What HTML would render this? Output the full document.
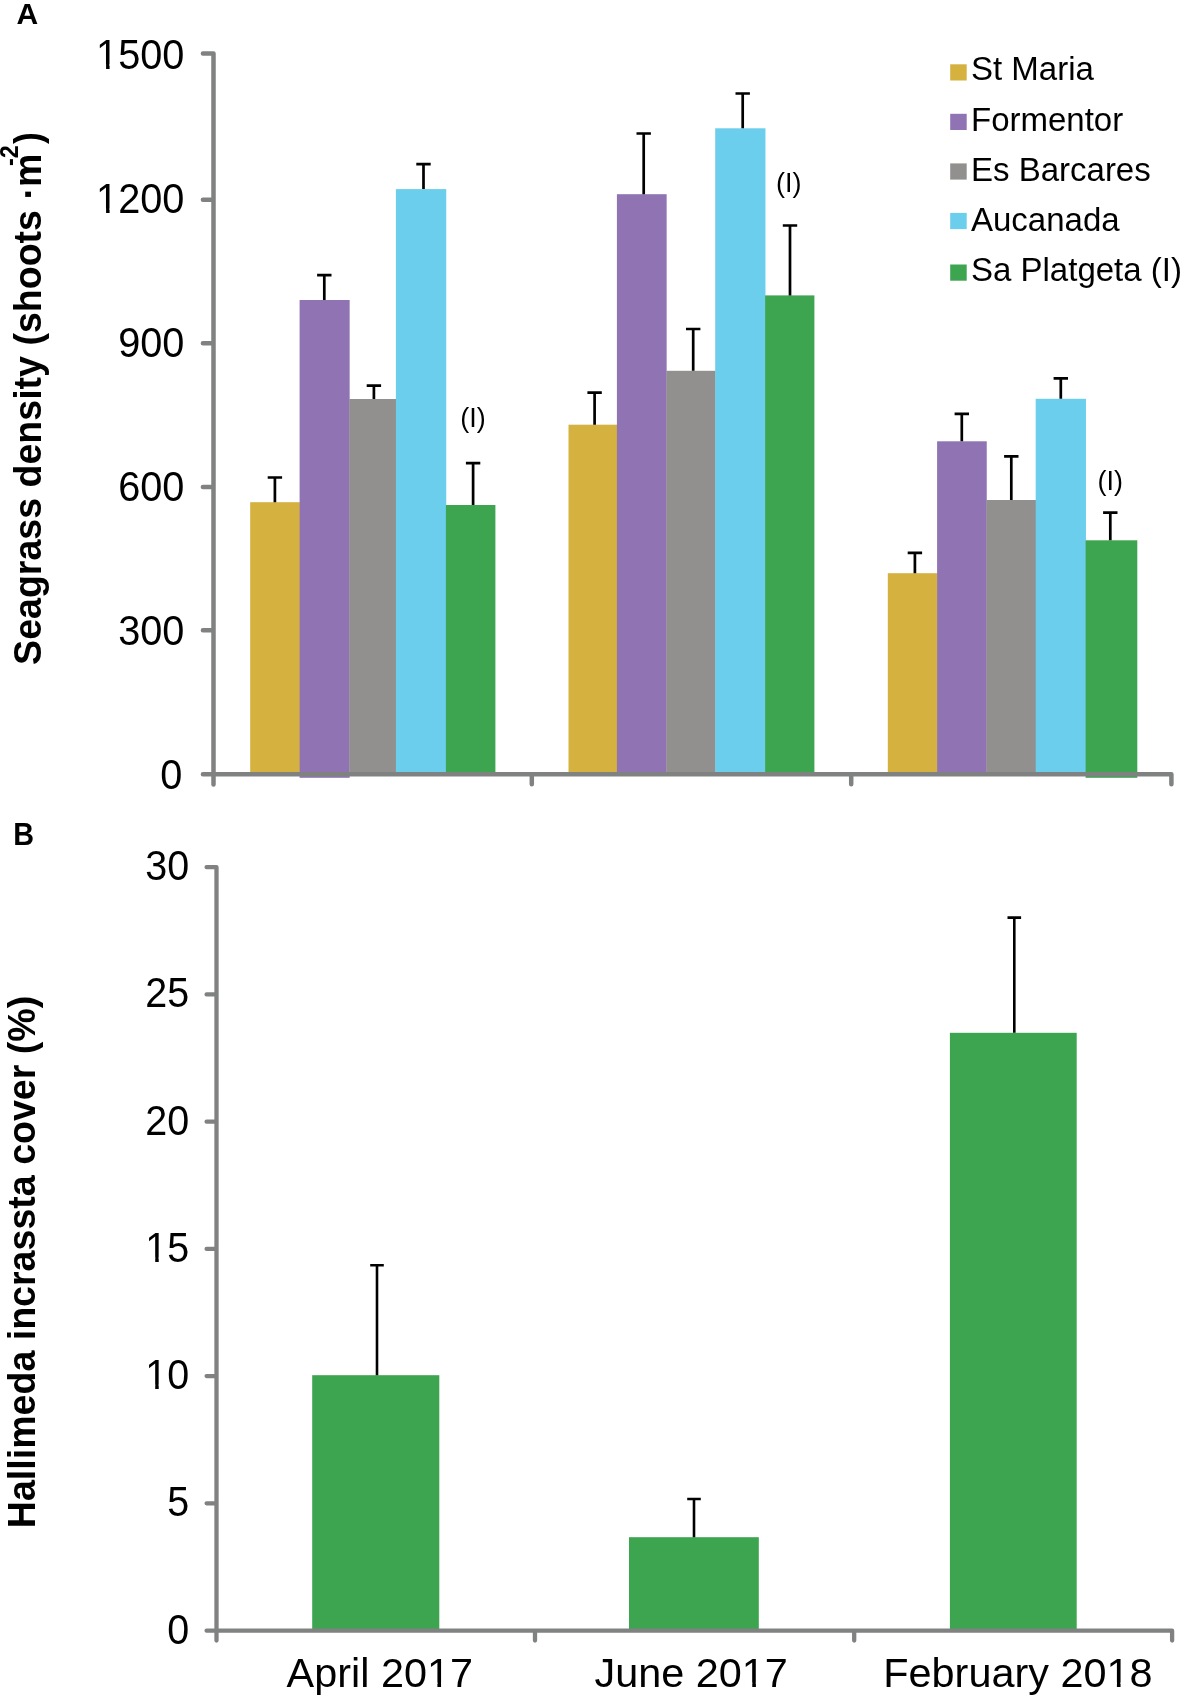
<!DOCTYPE html><html><head><meta charset="utf-8"><style>html,body{margin:0;padding:0;background:#fff;width:1181px;height:1695px;overflow:hidden}svg{display:block;will-change:transform}text{font-family:"Liberation Sans",sans-serif;fill:#000}</style></head><body>
<svg width="1181" height="1695" viewBox="0 0 1181 1695">
<rect x="250.2" y="502.2" width="49.75" height="272.80" fill="#D5B13F"/>
<rect x="299.6" y="300.0" width="50.05" height="477.80" fill="#8F73B3"/>
<rect x="349.3" y="399.0" width="46.95" height="376.00" fill="#91908E"/>
<rect x="395.9" y="189.1" width="50.35" height="585.90" fill="#6BCEEC"/>
<rect x="445.9" y="505.0" width="49.50" height="270.00" fill="#3DA450"/>
<rect x="568.5" y="424.7" width="48.75" height="350.30" fill="#D5B13F"/>
<rect x="616.9" y="194.2" width="49.75" height="580.80" fill="#8F73B3"/>
<rect x="666.3" y="370.8" width="49.25" height="404.20" fill="#91908E"/>
<rect x="715.2" y="128.3" width="50.25" height="646.70" fill="#6BCEEC"/>
<rect x="765.1" y="295.4" width="49.30" height="479.60" fill="#3DA450"/>
<rect x="887.8" y="573.2" width="49.65" height="201.80" fill="#D5B13F"/>
<rect x="937.1" y="441.3" width="49.65" height="333.70" fill="#8F73B3"/>
<rect x="986.4" y="500.0" width="49.65" height="275.00" fill="#91908E"/>
<rect x="1035.7" y="398.8" width="50.25" height="376.20" fill="#6BCEEC"/>
<rect x="1085.6" y="540.3" width="51.70" height="237.50" fill="#3DA450"/>
<g stroke="#000" stroke-width="2.7" fill="none">
<path d="M267.7 477.5 H282.1 M274.9 477.5 V502.2"/>
<path d="M317.1 275.2 H331.5 M324.3 275.2 V300.0"/>
<path d="M366.7 385.6 H381.1 M373.9 385.6 V399.0"/>
<path d="M416.3 164.2 H430.7 M423.5 164.2 V189.1"/>
<path d="M465.9 463.2 H480.3 M473.1 463.2 V505.0"/>
<path d="M587.4 392.7 H601.8 M594.6 392.7 V424.7"/>
<path d="M636.5 133.5 H650.9 M643.7 133.5 V194.2"/>
<path d="M686.0 329.0 H700.4 M693.2 329.0 V370.8"/>
<path d="M735.5 93.5 H749.9 M742.7 93.5 V128.3"/>
<path d="M782.8 225.5 H797.2 M790.0 225.5 V295.4"/>
<path d="M907.7 552.9 H922.1 M914.9 552.9 V573.2"/>
<path d="M954.6 413.9 H969.0 M961.8 413.9 V441.3"/>
<path d="M1004.1 456.3 H1018.5 M1011.3 456.3 V500.0"/>
<path d="M1053.6 378.4 H1068.0 M1060.8 378.4 V398.8"/>
<path d="M1103.1 512.7 H1117.5 M1110.3 512.7 V540.3"/>
</g>
<path d="M213.5 53.5 V784.6 M202.9 774.3 H1171.4 V784.3 M202.9 53.5 H213.5 M202.9 199.66 H213.5 M202.9 343.2 H213.5 M202.9 486.9 H213.5 M202.9 630.3 H213.5 M202.9 774.3 H213.5 M531.8 774.3 V784.3 M851.2 774.3 V784.3" stroke="#808281" stroke-width="4.5" fill="none" stroke-linecap="round" stroke-linejoin="round"/>
<g transform="translate(184.4,68.5) scale(0.945,1)"><text id="t1" x="0" y="0" font-size="42" text-anchor="end">1500</text>
<rect x="-91.14" y="-4.44" width="8.26" height="5.24" fill="#fff"/>
<rect x="-79.17" y="-4.44" width="7.93" height="5.24" fill="#fff"/>
</g>
<g transform="translate(184.4,212.8) scale(0.945,1)"><text id="t2" x="0" y="0" font-size="42" text-anchor="end">1200</text>
<rect x="-91.14" y="-4.44" width="8.26" height="5.24" fill="#fff"/>
<rect x="-79.17" y="-4.44" width="7.93" height="5.24" fill="#fff"/>
</g>
<g transform="translate(184.4,356.8) scale(0.945,1)"><text id="t3" x="0" y="0" font-size="42" text-anchor="end">900</text>
</g>
<g transform="translate(184.4,500.6) scale(0.945,1)"><text id="t4" x="0" y="0" font-size="42" text-anchor="end">600</text>
</g>
<g transform="translate(184.4,644.6) scale(0.945,1)"><text id="t5" x="0" y="0" font-size="42" text-anchor="end">300</text>
</g>
<g transform="translate(182.4,788.9) scale(0.945,1)"><text id="t6" x="0" y="0" font-size="42" text-anchor="end">0</text>
</g>
<text x="473.1" y="426.5" font-size="27" text-anchor="middle">(I)</text>
<text x="788.7" y="192.0" font-size="27" text-anchor="middle">(I)</text>
<text x="1110.35" y="490.4" font-size="27" text-anchor="middle">(I)</text>
<rect x="950.2" y="64.3" width="16.5" height="16.2" fill="#D5B13F"/>
<text x="971" y="80.1" font-size="33">St Maria</text>
<rect x="950.2" y="113.8" width="16.5" height="16.2" fill="#8F73B3"/>
<text x="971" y="130.8" font-size="33">Formentor</text>
<rect x="950.2" y="163.4" width="16.5" height="16.2" fill="#91908E"/>
<text x="971" y="180.6" font-size="33">Es Barcares</text>
<rect x="950.2" y="212.9" width="16.5" height="16.2" fill="#6BCEEC"/>
<text x="971" y="231.0" font-size="33">Aucanada</text>
<rect x="950.2" y="264.5" width="16.5" height="16.2" fill="#3DA450"/>
<text x="971" y="280.8" font-size="33">Sa Platgeta (I)</text>
<text x="16.4" y="24.2" font-size="30" font-weight="bold">A</text>
<text transform="translate(13.3,845.1) scale(0.93,1)" font-size="31" font-weight="bold">B</text>
<text transform="translate(41.2,664.9) rotate(-90) scale(0.9885,1)" font-size="38" font-weight="bold">Seagrass density (shoots ·m</text>
<text transform="translate(18.0,166) rotate(-90) scale(0.94,1)" font-size="25" font-weight="bold">-2</text>
<text transform="translate(41.2,143.9) rotate(-90) scale(0.94,1)" font-size="38" font-weight="bold">)</text>
<rect x="312.2" y="1375.2" width="127.10" height="256.30" fill="#3DA450"/>
<rect x="629.0" y="1537.2" width="129.80" height="94.30" fill="#3DA450"/>
<rect x="949.9" y="1032.8" width="126.80" height="598.70" fill="#3DA450"/>
<g stroke="#000" stroke-width="2.6" fill="none">
<path d="M370.2 1265.2 H383.8 M377.0 1265.2 V1375.2"/>
<path d="M687.2 1499.0 H700.8 M694.0 1499.0 V1537.2"/>
<path d="M1007.5 917.6 H1021.1 M1014.3 917.6 V1032.8"/>
</g>
<path d="M216.5 867.2 V1640.6 M206.6 1630.7 H1172.1 V1640.6 M206.6 867.2 H216.5 M206.6 994.4 H216.5 M206.6 1121.7 H216.5 M206.6 1248.9 H216.5 M206.6 1376.1 H216.5 M206.6 1503.3 H216.5 M206.6 1630.6 H216.5 M535.0 1630.7 V1640.6 M854.2 1630.7 V1640.6" stroke="#808281" stroke-width="4.3" fill="none" stroke-linecap="round" stroke-linejoin="round"/>
<g transform="translate(189.2,880.1) scale(0.94,1)"><text id="t7" x="0" y="0" font-size="42" text-anchor="end">30</text>
</g>
<g transform="translate(189.2,1007.3) scale(0.94,1)"><text id="t8" x="0" y="0" font-size="42" text-anchor="end">25</text>
</g>
<g transform="translate(189.2,1134.6) scale(0.94,1)"><text id="t9" x="0" y="0" font-size="42" text-anchor="end">20</text>
</g>
<g transform="translate(189.2,1261.8) scale(0.94,1)"><text id="t10" x="0" y="0" font-size="42" text-anchor="end">15</text>
<rect x="-44.41" y="-4.44" width="8.26" height="5.24" fill="#fff"/>
<rect x="-32.43" y="-4.44" width="7.93" height="5.24" fill="#fff"/>
</g>
<g transform="translate(189.2,1389.0) scale(0.94,1)"><text id="t11" x="0" y="0" font-size="42" text-anchor="end">10</text>
<rect x="-44.41" y="-4.44" width="8.26" height="5.24" fill="#fff"/>
<rect x="-32.43" y="-4.44" width="7.93" height="5.24" fill="#fff"/>
</g>
<g transform="translate(189.2,1516.2) scale(0.94,1)"><text id="t12" x="0" y="0" font-size="42" text-anchor="end">5</text>
</g>
<g transform="translate(189.2,1643.5) scale(0.94,1)"><text id="t13" x="0" y="0" font-size="42" text-anchor="end">0</text>
</g>
<g transform="translate(379.8,1686.8) scale(1.01,1)"><text id="t14" x="0" y="0" font-size="41" text-anchor="middle">April 2017</text>
<rect x="48.93" y="-4.36" width="8.09" height="5.16" fill="#fff"/>
<rect x="60.64" y="-4.36" width="7.77" height="5.16" fill="#fff"/>
</g>
<g transform="translate(691.2,1686.8) scale(1.01,1)"><text id="t15" x="0" y="0" font-size="41" text-anchor="middle">June 2017</text>
<rect x="52.36" y="-4.36" width="8.09" height="5.16" fill="#fff"/>
<rect x="64.07" y="-4.36" width="7.77" height="5.16" fill="#fff"/>
</g>
<g transform="translate(1017.9,1686.8) scale(1.01,1)"><text id="t16" x="0" y="0" font-size="41" text-anchor="middle">February 2018</text>
<rect x="89.93" y="-4.36" width="8.09" height="5.16" fill="#fff"/>
<rect x="101.64" y="-4.36" width="7.77" height="5.16" fill="#fff"/>
</g>
<text transform="translate(34.8,1528.2) rotate(-90) scale(0.984,1)" font-size="38.2" font-weight="bold">Hallimeda incrassta cover (%)</text>
</svg></body></html>
